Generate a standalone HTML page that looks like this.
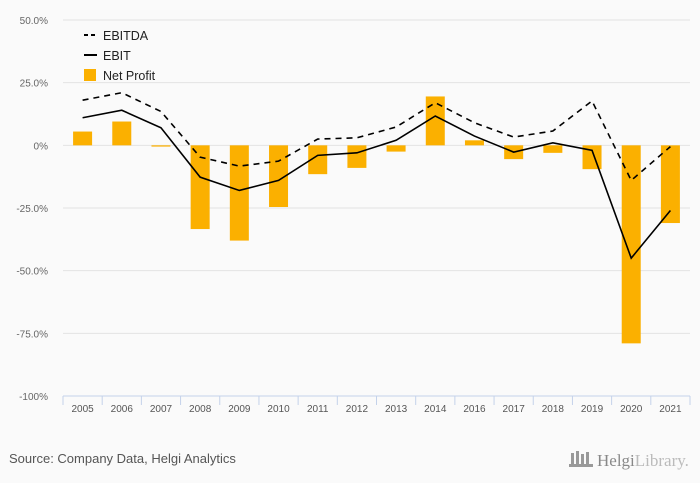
<!DOCTYPE html>
<html><head><meta charset="utf-8"><style>
body{margin:0;background:#fafafa;font-family:"Liberation Sans",sans-serif;}
svg{display:block}
</style></head><body>
<svg id="chart" width="700" height="483">
<rect width="700" height="483" fill="#fafafa"/>
<g id="grid"></g>
<g id="bars"></g>
<g id="lines"></g>
<g id="xaxis"></g>
<g>
 <g><line x1="84" y1="35" x2="97" y2="35" stroke="#000" stroke-width="2" stroke-dasharray="4,3"/><text x="103" y="40" font-size="12.5" fill="#222">EBITDA</text></g>
 <g><line x1="84" y1="55" x2="97" y2="55" stroke="#000" stroke-width="2"/><text x="103" y="60" font-size="12.5" fill="#222">EBIT</text></g>
 <g><rect x="84" y="69" width="12" height="12" fill="#fbb000"/><text x="103" y="80" font-size="12.5" fill="#222">Net Profit</text></g>
</g>
<text x="9" y="463" font-size="13" fill="#555">Source: Company Data, Helgi Analytics</text>
<g>
 <rect x="571" y="453" width="3" height="12" fill="#999"/><rect x="576" y="451" width="3" height="14" fill="#999"/><rect x="581" y="454" width="3" height="11" fill="#999"/><rect x="586" y="452" width="3" height="13" fill="#999"/>
 <rect x="569" y="464" width="24" height="3" fill="#999"/>
 <text x="597" y="466" font-family="Liberation Serif,serif" font-size="17" fill="#888">Helgi<tspan fill="#bbb">Library.</tspan></text>
</g>
</svg>
<script>
const categories=["2005","2006","2007","2008","2009","2010","2011","2012","2013","2014","2016","2017","2018","2019","2020","2021"];
const netProfit=[5.5,9.5,-0.5,-33.4,-38,-24.6,-11.5,-9,-2.5,19.5,2,-5.5,-3,-9.5,-79,-31];
const ebitda=[18,21,13.5,-4.7,-8.3,-6.3,2.5,3,7.3,17,9,3.3,5.7,17.7,-14,-0.5];
const ebit=[11,14,7,-12.7,-18,-14,-4,-3,2,11.7,3.7,-2.7,1,-2,-45,-26];
const yTicks=[50,25,0,-25,-50,-75,-100];
const yLabels=["50.0%","25.0%","0%","-25.0%","-50.0%","-75.0%","-100%"];
const NS="http://www.w3.org/2000/svg";
const L=63,R=690,T=20,B=396,ymax=50,ymin=-100;
const bw=(R-L)/categories.length;
const y=v=>T+(ymax-v)/(ymax-ymin)*(B-T);
const x=i=>L+bw*(i+0.5);
function mk(tag,attrs,parent){const e=document.createElementNS(NS,tag);for(const k in attrs)e.setAttribute(k,attrs[k]);parent.appendChild(e);return e;}
const grid=document.getElementById('grid');
yTicks.forEach((t,i)=>{
 if(t!==-100){const g=mk('line',{x1:L,x2:R,y1:y(t),y2:y(t),stroke:'#e3e3e3','stroke-width':1},grid);
 
 }
 const tx=mk('text',{x:48,y:y(t)+4,'text-anchor':'end','font-size':10,fill:'#666'},grid);
 tx.textContent=yLabels[i];
 
 
});
const bars=document.getElementById('bars');
netProfit.forEach((v,i)=>{
 const r=mk('rect',{x:x(i)-9.5,width:19,y:Math.min(y(v),y(0)),height:Math.max(1,Math.abs(y(v)-y(0))),fill:'#fbb000'},bars);
 
 
});
const lines=document.getElementById('lines');
const pts=a=>a.map((v,i)=>x(i)+','+y(v)).join(' ');
const l1=mk('polyline',{points:pts(ebitda),fill:'none',stroke:'#000','stroke-width':1.6,'stroke-dasharray':'6,5'},lines);


const l2=mk('polyline',{points:pts(ebit),fill:'none',stroke:'#000','stroke-width':1.6},lines);


const xa=document.getElementById('xaxis');
const al=mk('line',{x1:L,x2:R,y1:B,y2:B,stroke:'#c4d2ea','stroke-width':1},xa);


for(let i=0;i<=categories.length;i++){
 const tk=mk('line',{x1:L+bw*i,x2:L+bw*i,y1:B,y2:B+9,stroke:'#c4d2ea','stroke-width':1},xa);
 
 
}
categories.forEach((c,i)=>{
 const t=mk('text',{x:x(i),y:B+16,'text-anchor':'middle','font-size':10,fill:'#555'},xa);
 t.textContent=c;
 
 
});
</script>
</body></html>
